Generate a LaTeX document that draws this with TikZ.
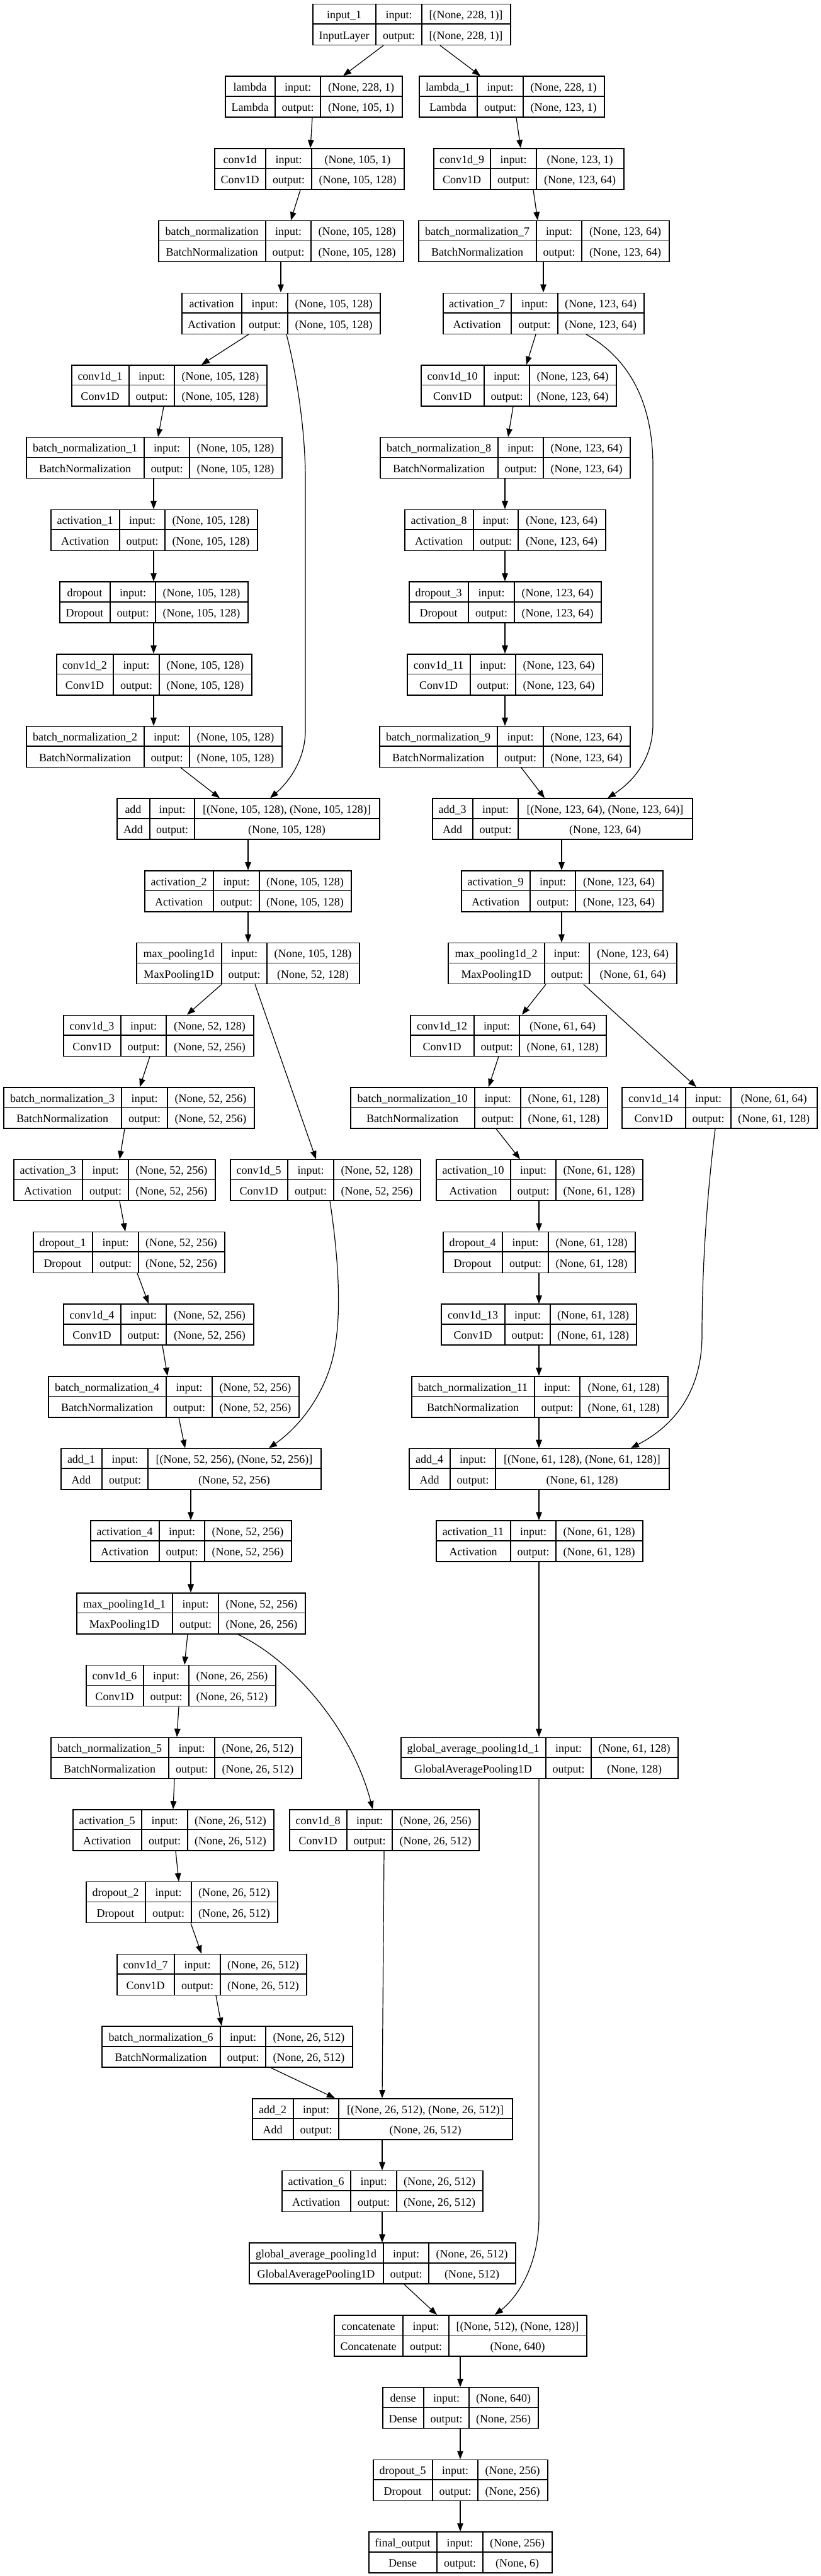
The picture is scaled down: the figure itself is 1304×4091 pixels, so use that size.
\documentclass[tikz,border=0pt]{standalone}
\usepackage{fontspec}
\setmainfont{Liberation Serif}
\usetikzlibrary{arrows.meta}
\def\kparse#1/#2/#3/#4\relax{\def\kxa{#1}\def\kxb{#2}\def\kxc{#3}\def\kxd{#4}}
\newcommand\kbox[7]{%
 \kparse#3\relax
 \pgfmathsetmacro\kyt{5.7+#2*114.7}%
 \pgfmathsetmacro\kym{\kyt+32.5}%
 \pgfmathsetmacro\kyb{\kyt+65}%
 \pgfmathsetmacro\kw{(\kxd-\kxa)*0.5}%
 \node[kframe, minimum width=\kw pt, anchor=north west] (#1) at (\kxa,\kyt) {};
 \draw[kline] (\kxa,\kym) -- (\kxd,\kym) (\kxb,\kyt) -- (\kxb,\kyb) (\kxc,\kyt) -- (\kxc,\kyb);
 \node[ktext] (#1-n) at ({(\kxa+\kxb)/2},\kyt+24) {#4};
 \node[ktext] (#1-c) at ({(\kxa+\kxb)/2},\kyt+56.5) {#5};
 \node[ktext] (#1-i) at ({(\kxb+\kxc)/2},\kyt+24) {input:};
 \node[ktext] (#1-o) at ({(\kxb+\kxc)/2},\kyt+56.5) {output:};
 \node[ktext] (#1-si) at ({(\kxc+\kxd)/2},\kyt+24) {#6};
 \node[ktext] (#1-so) at ({(\kxc+\kxd)/2},\kyt+56.5) {#7};
}
\newcommand\kedge[4]{\draw[kedge] (#1.south -| #2,0) -- (#3.north -| #4,0);}
\begin{document}
\begin{tikzpicture}[x=0.5pt,y=-0.5pt,
  kframe/.style={draw, line width=0.75pt, rectangle, inner sep=0pt, minimum height=32.5pt, fill=white},
  kline/.style={line width=0.75pt},
  ktext/.style={anchor=base, inner sep=0pt, font=\fontsize{9}{10}\selectfont},
  kedge/.style={line width=0.6pt, -{Triangle[length=6.5pt,width=4.8pt]}}]
\fill[white] (0,0) rectangle (1304,4091);
\useasboundingbox (0,0) rectangle (1304,4091);
% level 0-4
\kbox{in1}{0}{496/597/670/810}{input\_1}{InputLayer}{[(None, 228, 1)]}{[(None, 228, 1)]}
\kbox{lam}{1}{357/437/509/638}{lambda}{Lambda}{(None, 228, 1)}{(None, 105, 1)}
\kbox{lam1}{1}{665/758/831/959}{lambda\_1}{Lambda}{(None, 228, 1)}{(None, 123, 1)}
\kbox{c1d}{2}{340/422/495/641}{conv1d}{Conv1D}{(None, 105, 1)}{(None, 105, 128)}
\kbox{c1d9}{2}{688/779/852/990}{conv1d\_9}{Conv1D}{(None, 123, 1)}{(None, 123, 64)}
\kbox{bn}{3}{251/422/494/640}{batch\_normalization}{BatchNormalization}{(None, 105, 128)}{(None, 105, 128)}
\kbox{bn7}{3}{664/852/924/1062}{batch\_normalization\_7}{BatchNormalization}{(None, 123, 64)}{(None, 123, 64)}
\kbox{act}{4}{288/384/457/603}{activation}{Activation}{(None, 105, 128)}{(None, 105, 128)}
\kbox{act7}{4}{703/812/886/1022}{activation\_7}{Activation}{(None, 123, 64)}{(None, 123, 64)}
% level 5-10
\kbox{c1d1}{5}{113/205/277/423}{conv1d\_1}{Conv1D}{(None, 105, 128)}{(None, 105, 128)}
\kbox{c1d10}{5}{668/769/841/978}{conv1d\_10}{Conv1D}{(None, 123, 64)}{(None, 123, 64)}
\kbox{bn1}{6}{41/229/301/447}{batch\_normalization\_1}{BatchNormalization}{(None, 105, 128)}{(None, 105, 128)}
\kbox{bn8}{6}{603/791/863/1000}{batch\_normalization\_8}{BatchNormalization}{(None, 123, 64)}{(None, 123, 64)}
\kbox{act1}{7}{80/190/262/408}{activation\_1}{Activation}{(None, 105, 128)}{(None, 105, 128)}
\kbox{act8}{7}{642/752/823/961}{activation\_8}{Activation}{(None, 123, 64)}{(None, 123, 64)}
\kbox{drop}{8}{94/175/247/393}{dropout}{Dropout}{(None, 105, 128)}{(None, 105, 128)}
\kbox{drop3}{8}{649/744/817/954}{dropout\_3}{Dropout}{(None, 123, 64)}{(None, 123, 64)}
\kbox{c1d2}{9}{89/180/253/399}{conv1d\_2}{Conv1D}{(None, 105, 128)}{(None, 105, 128)}
\kbox{c1d11}{9}{646/747/819/956}{conv1d\_11}{Conv1D}{(None, 123, 64)}{(None, 123, 64)}
\kbox{bn2}{10}{41/229/301/447}{batch\_normalization\_2}{BatchNormalization}{(None, 105, 128)}{(None, 105, 128)}
\kbox{bn9}{10}{602/790/863/1000}{batch\_normalization\_9}{BatchNormalization}{(None, 123, 64)}{(None, 123, 64)}
% level 11-19
\kbox{add}{11}{185/238/309/602}{add}{Add}{[(None, 105, 128), (None, 105, 128)]}{(None, 105, 128)}
\kbox{add3}{11}{686/751/823/1099}{add\_3}{Add}{[(None, 123, 64), (None, 123, 64)]}{(None, 123, 64)}
\kbox{act2}{12}{229/339/412/557}{activation\_2}{Activation}{(None, 105, 128)}{(None, 105, 128)}
\kbox{act9}{12}{732/842/914/1052}{activation\_9}{Activation}{(None, 123, 64)}{(None, 123, 64)}
\kbox{mp}{13}{216/352/424/570}{max\_pooling1d}{MaxPooling1D}{(None, 105, 128)}{(None, 52, 128)}
\kbox{mp2}{13}{711/865/936/1074}{max\_pooling1d\_2}{MaxPooling1D}{(None, 123, 64)}{(None, 61, 64)}
\kbox{c1d3}{14}{100/192/264/402}{conv1d\_3}{Conv1D}{(None, 52, 128)}{(None, 52, 256)}
\kbox{c1d12}{14}{651/753/825/962}{conv1d\_12}{Conv1D}{(None, 61, 64)}{(None, 61, 128)}
\kbox{bn3}{15}{5/193/266/403}{batch\_normalization\_3}{BatchNormalization}{(None, 52, 256)}{(None, 52, 256)}
\kbox{bn10}{15}{556/754/827/964}{batch\_normalization\_10}{BatchNormalization}{(None, 61, 128)}{(None, 61, 128)}
\kbox{c1d14}{15}{987/1089/1161/1297}{conv1d\_14}{Conv1D}{(None, 61, 64)}{(None, 61, 128)}
\kbox{act3}{16}{21/131/204/341}{activation\_3}{Activation}{(None, 52, 256)}{(None, 52, 256)}
\kbox{c1d5}{16}{365/457/530/667}{conv1d\_5}{Conv1D}{(None, 52, 128)}{(None, 52, 256)}
\kbox{act10}{16}{692/811/883/1020}{activation\_10}{Activation}{(None, 61, 128)}{(None, 61, 128)}
\kbox{drop1}{17}{52/147/220/356}{dropout\_1}{Dropout}{(None, 52, 256)}{(None, 52, 256)}
\kbox{drop4}{17}{703/798/871/1008}{dropout\_4}{Dropout}{(None, 61, 128)}{(None, 61, 128)}
\kbox{c1d4}{18}{100/192/264/402}{conv1d\_4}{Conv1D}{(None, 52, 256)}{(None, 52, 256)}
\kbox{c1d13}{18}{700/802/874/1010}{conv1d\_13}{Conv1D}{(None, 61, 128)}{(None, 61, 128)}
\kbox{bn4}{19}{76/264/337/474}{batch\_normalization\_4}{BatchNormalization}{(None, 52, 256)}{(None, 52, 256)}
\kbox{bn11}{19}{653/849/921/1060}{batch\_normalization\_11}{BatchNormalization}{(None, 61, 128)}{(None, 61, 128)}
% level 20-28
\kbox{add1}{20}{96/162/235/509}{add\_1}{Add}{[(None, 52, 256), (None, 52, 256)]}{(None, 52, 256)}
\kbox{add4}{20}{649/715/787/1062}{add\_4}{Add}{[(None, 61, 128), (None, 61, 128)]}{(None, 61, 128)}
\kbox{act4}{21}{143/253/325/462}{activation\_4}{Activation}{(None, 52, 256)}{(None, 52, 256)}
\kbox{act11}{21}{692/811/883/1020}{activation\_11}{Activation}{(None, 61, 128)}{(None, 61, 128)}
\kbox{mp1}{22}{121/274/347/484}{max\_pooling1d\_1}{MaxPooling1D}{(None, 52, 256)}{(None, 26, 256)}
\kbox{c1d6}{23}{136/228/300/437}{conv1d\_6}{Conv1D}{(None, 26, 256)}{(None, 26, 512)}
\kbox{bn5}{24}{80/268/341/478}{batch\_normalization\_5}{BatchNormalization}{(None, 26, 512)}{(None, 26, 512)}
\kbox{gap1}{24}{636/867/939/1076}{global\_average\_pooling1d\_1}{GlobalAveragePooling1D}{(None, 61, 128)}{(None, 128)}
\kbox{act5}{25}{115/225/298/434}{activation\_5}{Activation}{(None, 26, 512)}{(None, 26, 512)}
\kbox{c1d8}{25}{459/551/623/760}{conv1d\_8}{Conv1D}{(None, 26, 256)}{(None, 26, 512)}
\kbox{drop2}{26}{136/231/304/440}{dropout\_2}{Dropout}{(None, 26, 512)}{(None, 26, 512)}
\kbox{c1d7}{27}{185/277/350/486}{conv1d\_7}{Conv1D}{(None, 26, 512)}{(None, 26, 512)}
\kbox{bn6}{28}{161/350/422/559}{batch\_normalization\_6}{BatchNormalization}{(None, 26, 512)}{(None, 26, 512)}
% level 29-35
\kbox{add2}{29}{400/466/538/813}{add\_2}{Add}{[(None, 26, 512), (None, 26, 512)]}{(None, 26, 512)}
\kbox{act6}{30}{447/557/630/766}{activation\_6}{Activation}{(None, 26, 512)}{(None, 26, 512)}
\kbox{gap}{31}{395/609/681/818}{global\_average\_pooling1d}{GlobalAveragePooling1D}{(None, 26, 512)}{(None, 512)}
\kbox{cat}{32}{530/640/713/931}{concatenate}{Concatenate}{[(None, 512), (None, 128)]}{(None, 640)}
\kbox{dense}{33}{607/673/745/854}{dense}{Dense}{(None, 640)}{(None, 256)}
\kbox{drop5}{34}{592/687/759/869}{dropout\_5}{Dropout}{(None, 256)}{(None, 256)}
\kbox{fout}{35}{585/694/767/876}{final\_output}{Dense}{(None, 256)}{(None, 6)}
% straight connectors
\kedge{in1}{609}{lam}{545}
\kedge{in1}{699}{lam1}{763}
\kedge{lam}{496}{c1d}{493}
\kedge{lam1}{820}{c1d9}{827}
\kedge{c1d}{477}{bn}{462}
\kedge{c1d9}{847}{bn7}{854}
\kedge{bn}{446}{act}{446}
\kedge{bn7}{863}{act7}{863}
\kedge{act}{395}{c1d1}{320}
\kedge{act7}{851}{c1d10}{836}
\kedge{c1d1}{260}{bn1}{251}
\kedge{c1d10}{815}{bn8}{807}
\kedge{bn1}{244}{act1}{244}
\kedge{bn8}{802}{act8}{802}
\kedge{act1}{244}{drop}{244}
\kedge{act8}{802}{drop3}{802}
\kedge{drop}{244}{c1d2}{244}
\kedge{drop3}{802}{c1d11}{802}
\kedge{c1d2}{244}{bn2}{244}
\kedge{c1d11}{802}{bn9}{802}
\kedge{bn2}{287}{add}{349}
\kedge{bn9}{828}{add3}{865}
\kedge{add}{394}{act2}{394}
\kedge{add3}{892}{act9}{892}
\kedge{act2}{394}{mp}{394}
\kedge{act9}{892}{mp2}{892}
\kedge{mp}{352}{c1d3}{297}
\kedge{mp}{405}{c1d5}{502}
\kedge{mp2}{867}{c1d12}{829}
\kedge{mp2}{927}{c1d14}{1106}
\kedge{c1d3}{238}{bn3}{222}
\kedge{c1d12}{792}{bn10}{776}
\kedge{bn3}{198}{act3}{190}
\kedge{bn10}{788}{act10}{826}
\kedge{act3}{190}{drop1}{199}
\kedge{act10}{856}{drop4}{856}
\kedge{drop1}{218}{c1d4}{236}
\kedge{drop4}{856}{c1d13}{856}
\kedge{c1d4}{258}{bn4}{266}
\kedge{c1d13}{856}{bn11}{856}
\kedge{bn4}{284}{add1}{294}
\kedge{bn11}{856}{add4}{856}
\kedge{add1}{303}{act4}{303}
\kedge{add4}{856}{act11}{856}
\kedge{act4}{303}{mp1}{303}
\kedge{act11}{856}{gap1}{856}
\kedge{mp1}{298}{c1d6}{293}
\kedge{c1d6}{284}{bn5}{281}
\kedge{bn5}{277}{act5}{275}
\kedge{act5}{279}{drop2}{284}
\kedge{drop2}{303}{c1d7}{320}
\kedge{c1d7}{343}{bn6}{352}
\kedge{bn6}{430}{add2}{532}
\kedge{c1d8}{610}{add2}{607}
\kedge{add2}{607}{act6}{607}
\kedge{act6}{607}{gap}{607}
\kedge{gap}{642}{cat}{694}
\kedge{cat}{731}{dense}{731}
\kedge{dense}{731}{drop5}{731}
\kedge{drop5}{731}{fout}{731}
% curved connectors
\draw[kedge] (act.south -| 455,0) .. controls (470,590) and (485,680) .. (485,760) -- (485,1160) .. controls (485,1210) and (455,1245) .. (add.north -| 429,0);
\draw[kedge] (act7.south -| 931,0) .. controls (1000,570) and (1037,640) .. (1037,740) -- (1037,1150) .. controls (1037,1210) and (1000,1245) .. (add3.north -| 965,0);
\draw[kedge] (c1d5.south -| 524,0) .. controls (535,1980) and (545,2080) .. (530,2150) .. controls (515,2220) and (470,2270) .. (add1.north -| 427,0);
\draw[kedge] (c1d14.south -| 1136,0) .. controls (1125,1880) and (1115,2000) .. (1115,2120) .. controls (1115,2220) and (1060,2270) .. (add4.north -| 1002,0);
\draw[kedge] (mp1.south -| 378,0) .. controls (470,2640) and (560,2750) .. (c1d8.north -| 592,0);
\draw[kedge] (gap1.south -| 856,0) -- (856,3520) .. controls (856,3600) and (820,3650) .. (cat.north -| 786,0);
\end{tikzpicture}
\end{document}
